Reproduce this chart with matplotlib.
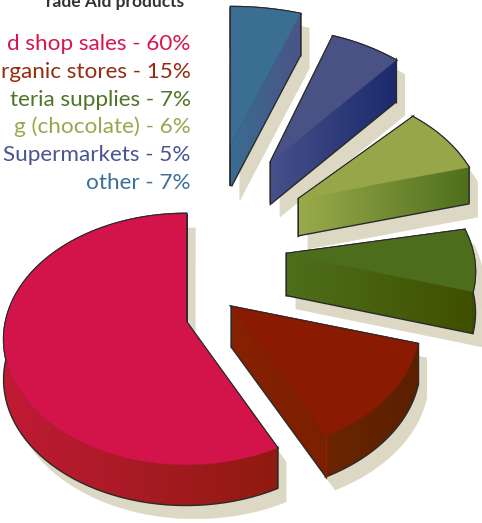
import numpy as np
import matplotlib
matplotlib.use("Agg")
import matplotlib.pyplot as plt
from matplotlib.colors import LinearSegmentedColormap
from matplotlib.patches import Polygon

# slices, counter-clockwise from 12 o'clock
labels = ["d shop sales", "rganic stores", "teria supplies", "g (chocolate)", "Supermarkets", "other"]
shares = [60, 15, 7, 6, 5, 7]
title = "rade Aid products"

# hand-drawn look: each exploded slice has its own placement and stretch
apex_x = [186, 232, 287, 299, 271, 231]
apex_y = [322, 307, 254, 199, 162, 145]
radius_x = [180, 186, 186, 182, 205, 236]
radius_y = [123, 126, 124, 124, 151, 157]
depths = [40, 40, 41, 36, 41, 41]
sweep_gain = [0.955, 0.876, 1.13, 1.44, 1.228, 0.766]
tilt = [0, 0, -0.6, 3.3, 4.7, 5.4]
PERSPECTIVE = 0.139
SHADOW_DX, SHADOW_DY = 9, 14

text_colors = ["#d6164f", "#952c0e", "#4f7528", "#97a84e", "#4a5590", "#3c7096"]
top_colors = ["#d2144a", "#8a1a02", "#4c6d1c", "#97a648", "#4a5185", "#3a6e92"]
radial_colors = [("#b01c28", "#8f1a10"), ("#882002", "#7a2000"), ("#4e6f1c", "#3f5000"),
                 ("#9aab4c", "#4f6f1c"), ("#46508a", "#1c2a6c"), ("#3a6c90", "#4a5488")]
rim_colors = [("#c01b36", "#8f1a10"), ("#6b2500", "#5a2000"), ("#3f5000", "#3f5000"),
              ("#4f6f1c", "#4f6f1c"), ("#1c2a6c", "#1c2a6c"), ("#4a5488", "#4a5488")]
SHADOW = "#ddd8c3"
OUTLINE = "#2a2a2a"


def rim(i, theta):
    t = np.radians(theta)
    den = 1 + PERSPECTIVE * np.sin(t)
    x = apex_x[i] + radius_x[i] * np.cos(t) / den
    y = apex_y[i] - radius_y[i] * np.sin(t) / den
    return np.column_stack([x, y])


def extrude(edge, depth):
    return np.vstack([edge, edge[::-1] + [0, depth]])


def gradient_fill(ax, pts, left, right, zorder):
    cmap = LinearSegmentedColormap.from_list("face", [left, right])
    x0, x1 = pts[:, 0].min(), pts[:, 0].max()
    y0, y1 = pts[:, 1].min(), pts[:, 1].max()
    img = ax.imshow(np.linspace(0, 1, 256)[None, :], cmap=cmap, aspect="auto",
                    extent=(x0, x1 + 0.01, y1, y0), zorder=zorder, interpolation="bilinear")
    clip = Polygon(pts, closed=True, transform=ax.transData, fill=False, edgecolor="none")
    ax.add_patch(clip)
    img.set_clip_path(clip)


fig = plt.figure(figsize=(4.82, 5.23), dpi=100)
ax = fig.add_axes([0, 0, 1, 1])

start = 90.0
for i, share in enumerate(shares):
    sweep = share * 3.6 * sweep_gain[i]
    theta = np.linspace(start + tilt[i], start + tilt[i] + sweep, 80)
    start += sweep

    arc = rim(i, theta)
    apex = np.array([[apex_x[i], apex_y[i]]], dtype=float)
    depth = depths[i]
    top = np.vstack([apex, arc])
    side_a = extrude(np.vstack([apex, arc[:1]]), depth)
    side_b = extrude(np.vstack([apex, arc[-1:]]), depth)
    wall = extrude(arc, depth)
    faces = [side_a, side_b, wall, top]

    # shadow first, then dark copies of every face so only the silhouette keeps a stroke
    for face in faces:
        ax.add_patch(Polygon(face + [SHADOW_DX, SHADOW_DY], closed=True, facecolor=SHADOW,
                             edgecolor=SHADOW, lw=0.3, zorder=1))
    for face in faces:
        ax.add_patch(Polygon(face, closed=True, facecolor=OUTLINE, edgecolor=OUTLINE,
                             lw=2.0, joinstyle="miter", zorder=2))

    # the two big front slices show their curved wall, the upper ones a cut face
    wall_z, side_z = (4, 3) if i < 2 else (3, 4)
    gradient_fill(ax, wall, *rim_colors[i], zorder=wall_z)
    # only the lower cut face ever shows
    gradient_fill(ax, side_b if i == 0 else side_a, *radial_colors[i], zorder=side_z)
    ax.add_patch(Polygon(side_a if i == 0 else side_b, closed=True, facecolor=top_colors[i],
                         edgecolor="none", zorder=2.5))
    ax.add_patch(Polygon(top, closed=True, facecolor=top_colors[i], edgecolor=top_colors[i],
                         lw=0.3, zorder=5))

    # organic stores slice has a lighter seam on its front corner
    if i == 1:
        ax.plot([arc[0, 0], arc[0, 0]], [arc[0, 1], arc[0, 1] + depth + 2],
                color="#8f2000", lw=0.9, zorder=6)

for i, (label, share) in enumerate(zip(labels, shares)):
    ax.text(190.5, 50 + i * 27.8, f"{label} - {share}%", ha="right", va="baseline",
            fontsize=16.2, family="Lato", color=text_colors[i])
ax.text(184, 6.5, title, ha="right", va="baseline", fontsize=12.5, family="Lato",
        fontweight="bold", color="#333333")

ax.set_xlim(0, 482)
ax.set_ylim(523, 0)
ax.axis("off")
fig.savefig("out.png", dpi=100)
